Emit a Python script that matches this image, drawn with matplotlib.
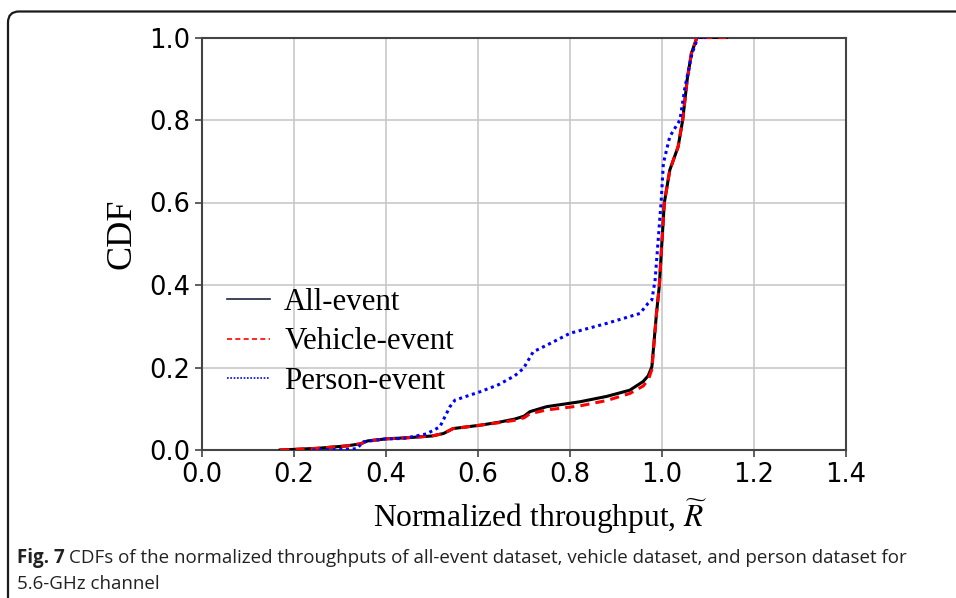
import matplotlib
matplotlib.use('Agg')
import matplotlib.pyplot as plt
from matplotlib.patches import FancyBboxPatch
from matplotlib.transforms import IdentityTransform
from matplotlib.lines import Line2D

# CDF curves
all_x = [0.17, 0.25, 0.315, 0.345, 0.36, 0.40, 0.45, 0.50, 0.525, 0.546, 0.604, 0.644,
         0.68, 0.70, 0.713, 0.749, 0.822, 0.88, 0.93, 0.959, 0.970, 0.978, 0.988, 0.994,
         1.005, 1.017, 1.035, 1.045, 1.055, 1.064, 1.076, 1.14]
all_y = [0.0, 0.004, 0.01, 0.015, 0.022, 0.027, 0.030, 0.034, 0.040, 0.052, 0.060, 0.067,
         0.075, 0.082, 0.093, 0.105, 0.117, 0.130, 0.145, 0.166, 0.18, 0.202, 0.331, 0.396,
         0.599, 0.679, 0.735, 0.80, 0.90, 0.962, 1.0, 1.0]

veh_x = all_x
veh_y = [0.0, 0.004, 0.01, 0.015, 0.022, 0.027, 0.030, 0.034, 0.040, 0.052, 0.060, 0.066,
         0.072, 0.078, 0.088, 0.097, 0.107, 0.120, 0.137, 0.155, 0.17, 0.195, 0.33, 0.396,
         0.599, 0.679, 0.735, 0.80, 0.90, 0.962, 1.0, 1.0]

per_x = [0.24, 0.30, 0.336, 0.351, 0.40, 0.438, 0.488, 0.517, 0.539, 0.55, 0.604, 0.644,
         0.68, 0.699, 0.72, 0.76, 0.80, 0.88, 0.952, 0.970, 0.978, 0.985, 0.998, 1.003,
         1.017, 1.039, 1.05, 1.065, 1.078, 1.10]
per_y = [0.0, 0.001, 0.003, 0.02, 0.027, 0.028, 0.039, 0.056, 0.105, 0.121, 0.141, 0.158,
         0.18, 0.198, 0.238, 0.26, 0.283, 0.307, 0.331, 0.356, 0.364, 0.412, 0.6, 0.695,
         0.76, 0.80, 0.88, 0.96, 1.0, 1.0]

labels = ['All-event', 'Vehicle-event', 'Person-event']
x_ticks = [0.0, 0.2, 0.4, 0.6, 0.8, 1.0, 1.2, 1.4]
y_ticks = [0.0, 0.2, 0.4, 0.6, 0.8, 1.0]

plt.rcParams['mathtext.fontset'] = 'stix'

fig = plt.figure(figsize=(9.56, 5.98), dpi=100)
ax = fig.add_axes([202 / 956, 1 - 450 / 598, 644 / 956, 412.5 / 598])

ax.plot(all_x, all_y, color='black', lw=2.2, zorder=3)
ax.plot(veh_x, veh_y, color='red', lw=2.2, ls=(0, (3, 2)), zorder=4)
ax.plot(per_x, per_y, color='blue', lw=2.2, ls=(0, (1, 1.2)), zorder=5)

ax.set_xlim(0, 1.4)
ax.set_ylim(0, 1.0)
ax.set_xticks(x_ticks)
ax.set_yticks(y_ticks)
ax.set_xticklabels([f'{v:.1f}' for v in x_ticks])
ax.set_yticklabels([f'{v:.1f}' for v in y_ticks])
ax.tick_params(labelsize=18.5, length=5, width=1.2, color='#444444')
ax.grid(True, color='#c8c8c8', lw=1.2)
ax.set_axisbelow(True)
for sp in ax.spines.values():
    sp.set_color('#444444')
    sp.set_linewidth(1.5)

serif = 'Liberation Serif'
ax.set_xlabel(r'Normalized throughput, $\widetilde{R}$', family=serif, fontsize=22.7)
ax.xaxis.set_label_coords(0.525, -0.114)
ax.set_ylabel('CDF', family=serif, fontsize=26)
ax.yaxis.set_label_coords(-0.099, 0.524)

handles = [Line2D([], [], color='#1a2540', lw=1.2),
           Line2D([], [], color='red', lw=1.2, ls=(0, (3, 2))),
           Line2D([], [], color='blue', lw=1.2, ls=(0, (1, 1)))]
ax.legend(handles, labels, loc='center left', bbox_to_anchor=(0.039, 0.262),
          frameon=False, prop={'family': serif, 'size': 22.2}, handlelength=1.4,
          handletextpad=0.45, labelspacing=0.33, borderpad=0, borderaxespad=0)

# caption
cap_y = 1 - 563 / 598
t1 = fig.text(17 / 956, cap_y, 'Fig. 7', family='Open Sans', weight='bold', fontsize=13.5,
              va='baseline', color='#222222')
r = fig.canvas.get_renderer()
bb = t1.get_window_extent(renderer=r)
fig.text((bb.x1 + 4) / 956, cap_y,
         'CDFs of the normalized throughputs of all-event dataset, vehicle dataset, and person dataset for',
         family='Open Sans', fontsize=13.5, va='baseline', color='#222222')
fig.text(17 / 956, 1 - 589 / 598, '5.6-GHz channel', family='Open Sans', fontsize=13.5,
         va='baseline', color='#222222')

# rounded border box, cropped on the right and bottom
box = FancyBboxPatch((8, -30), 1000, 598 - 11.5 + 30,
                     boxstyle='round,pad=0,rounding_size=11',
                     transform=IdentityTransform(), fill=False,
                     edgecolor='#1a1a1a', lw=1.6)
fig.add_artist(box)

fig.savefig('out.png', dpi=100, facecolor='white')
